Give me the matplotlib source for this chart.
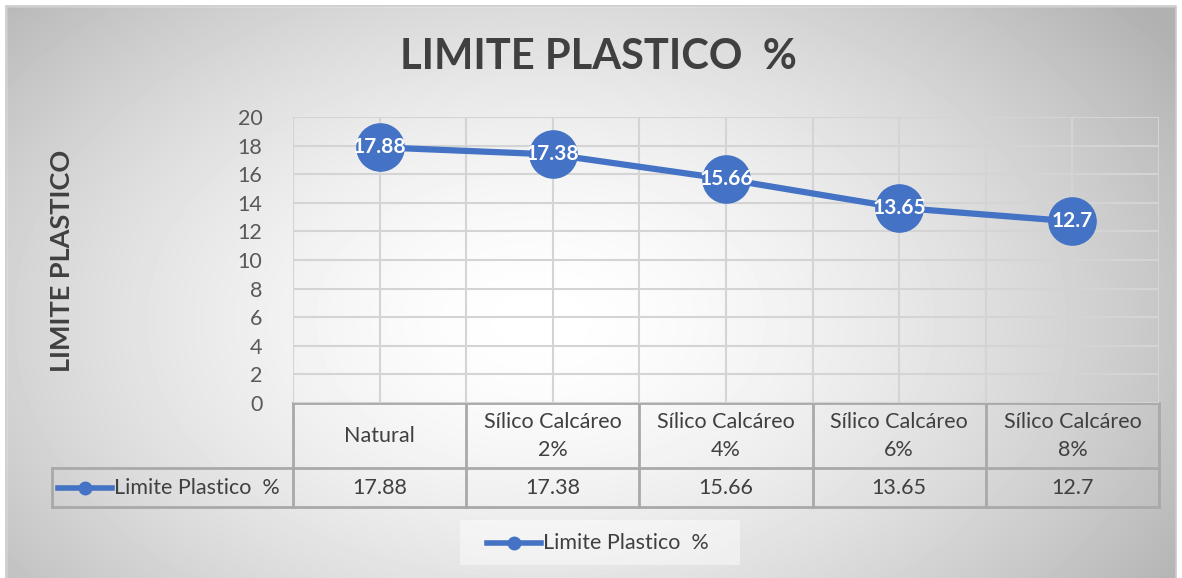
import numpy as np
import matplotlib.pyplot as plt
from matplotlib.lines import Line2D
from matplotlib.patches import Rectangle

categories = ["Natural", "Sílico Calcáreo\n2%", "Sílico Calcáreo\n4%",
              "Sílico Calcáreo\n6%", "Sílico Calcáreo\n8%"]
values = [17.88, 17.38, 15.66, 13.65, 12.7]
series_name = "Limite Plastico  %"
y_ticks = list(range(0, 21, 2))

W, H = 1182, 578
BLUE = "#4472C4"
TXT = "#404040"
GRID = "#d4d4d4"
TLINE = "#a9a9a9"
FS = 15.5
plt.rcParams['font.family'] = ['Lato', 'DejaVu Sans']

fig = plt.figure(figsize=(W / 100, H / 100), dpi=100)

# background: radial grey gradient, drawn in pixel coordinates
bg = fig.add_axes([0, 0, 1, 1])
bg.set_xlim(0, W)
bg.set_ylim(H, 0)
bg.axis("off")
yy, xx = np.mgrid[0:H, 0:W]
r = np.sqrt(((xx - 540) / 640) ** 2 + ((yy - 320) / 420) ** 2)
shade = 1 - 0.23 * np.clip(r, 0, 1.2) ** 1.6
bg.imshow(shade, cmap="gray", vmin=0, vmax=1, extent=(0, W, H, 0), zorder=0)
bg.add_patch(Rectangle((0, 0), 6, H, color="white", zorder=1))
bg.add_patch(Rectangle((0, 0), W, 6, color="white", zorder=1))
bg.add_patch(Rectangle((1176, 0), 6, H, color="white", zorder=1))
bg.plot([6, 6, 1176, 1176], [H, 6, 6, H], color="#c8c8c8", lw=1.2, zorder=2)

bg.text(598, 57, "LIMITE PLASTICO  %", ha="center", va="center",
        fontsize=30, fontweight="bold", color=TXT)
bg.text(62, 261, "LIMITE PLASTICO", ha="center", va="center", rotation=90,
        fontsize=19.5, fontweight="bold", color=TXT)

# main plot area
x0, x1, y0, y1 = 293, 1159, 117, 403
ax = fig.add_axes([x0 / W, 1 - y1 / H, (x1 - x0) / W, (y1 - y0) / H])
ax.patch.set_alpha(0)
xs = np.arange(len(values))
ax.set_xlim(-0.5, len(values) - 0.5)
ax.set_ylim(0, 20)
ax.set_yticks(y_ticks)
ax.set_xticks(np.arange(-0.5, len(values), 0.5))
ax.set_xticklabels([])
ax.tick_params(axis="both", length=0, labelsize=FS, labelcolor="#595959")
ax.tick_params(axis="y", pad=22)
ax.grid(True, color=GRID, lw=1.5)
for s in ax.spines.values():
    s.set_visible(False)
ax.plot(xs, values, "-o", color=BLUE, lw=4.5, markersize=34, zorder=3,
        clip_on=False)
for x, v in zip(xs, values):
    ax.text(x, v, f"{v:g}", ha="center", va="center", color="white",
            fontsize=15, fontweight="bold", zorder=4)

# data table under the axis
cols = np.linspace(x0, x1, len(values) + 1)
r0, r1, r2 = 403, 468, 507
kw = dict(color=TLINE, lw=2, zorder=3)
bg.plot([x0, x1], [r0, r0], **kw)
bg.plot([52, x1], [r1, r1], **kw)
bg.plot([52, x1], [r2, r2], **kw)
bg.plot([52, 52], [r1, r2], **kw)
for c in cols:
    bg.plot([c, c], [r0, r2], **kw)
for i, (cat, v) in enumerate(zip(categories, values)):
    cx = (cols[i] + cols[i + 1]) / 2
    bg.text(cx, 436, cat, ha="center", va="center", fontsize=FS,
            color=TXT, linespacing=1.45, zorder=4)
    bg.text(cx, 488, f"{v:g}", ha="center", va="center", fontsize=FS,
            color=TXT, zorder=4)


def legend_key(x, y):
    bg.add_line(Line2D([x, x + 54], [y, y], color=BLUE, lw=4, zorder=5))
    bg.plot(x + 27, y, "o", color=BLUE, markersize=9, zorder=6)
    bg.text(x + 56, y, series_name, ha="left", va="center", fontsize=FS,
            color=TXT, zorder=6)


legend_key(58, 488)
bg.add_patch(Rectangle((460, 520), 280, 45, facecolor="white", alpha=0.45,
                       edgecolor="none", zorder=2))
legend_key(487, 543)

fig.savefig("out.png", dpi=100)
